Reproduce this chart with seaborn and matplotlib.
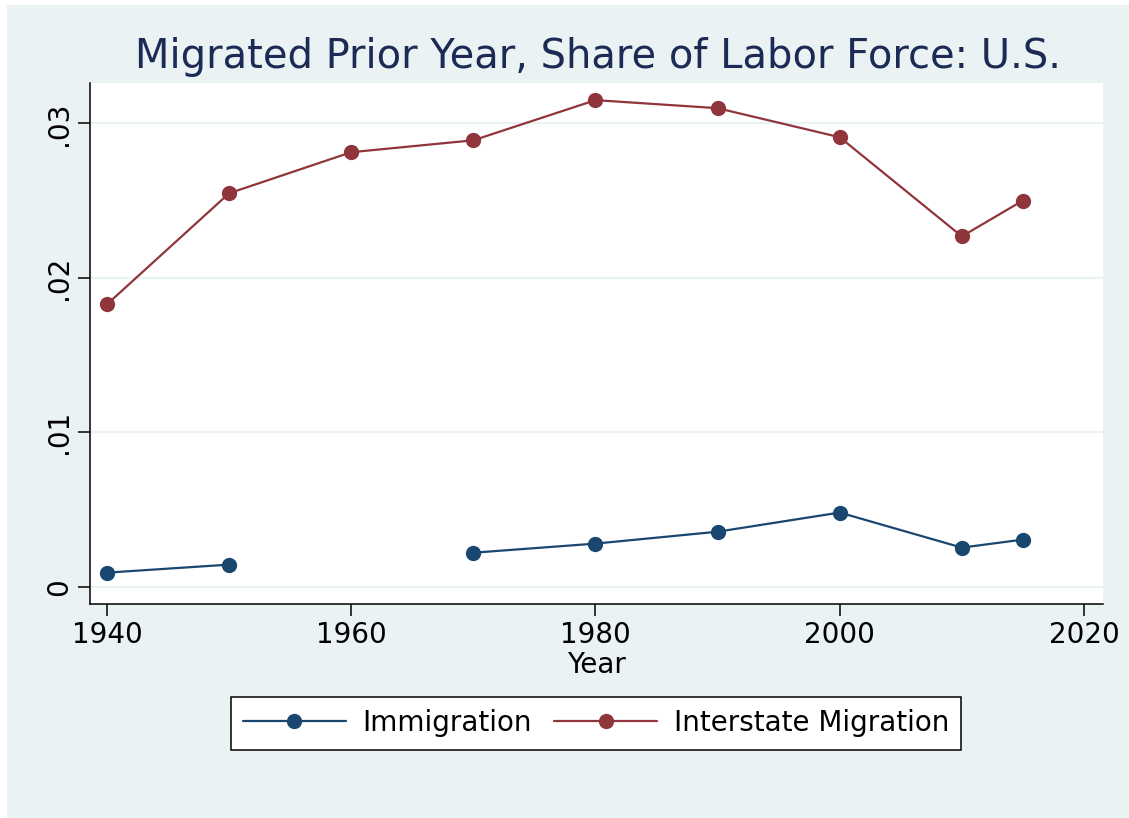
"""Migrated prior year, share of labor force (Stata s2color look)."""

import matplotlib

matplotlib.use("Agg")

import matplotlib.pyplot as plt
import numpy as np
import pandas as pd
import seaborn as sns
from matplotlib.lines import Line2D
from matplotlib.patches import Rectangle

years = [1940, 1950, 1960, 1970, 1980, 1990, 2000, 2010, 2015]
immigration = [0.00091, 0.00143, np.nan, 0.0022, 0.00279, 0.00356, 0.0048, 0.00253, 0.00305]
interstate = [0.01828, 0.02547, 0.02813, 0.0289, 0.0315, 0.03098, 0.0291, 0.02268, 0.0250]
series_names = ["Immigration", "Interstate Migration"]
y_ticks = [0, 0.01, 0.02, 0.03]
y_ticklabels = ["0", ".01", ".02", ".03"]
x_ticks = [1940, 1960, 1980, 2000, 2020]

NAVY = "#1a476f"
MAROON = "#90353b"
BG = "#eaf2f3"
TITLE_COLOR = "#1c2b55"

frames = []
for name, vals in zip(series_names, [immigration, interstate]):
    d = pd.DataFrame({"Year": years, "value": vals, "series": name})
    # break the line where a value is missing
    d["segment"] = d["value"].isna().cumsum()
    frames.append(d.dropna())
df = pd.concat(frames, ignore_index=True)
df["unit"] = df["series"] + "_" + df["segment"].astype(str)

sns.set_theme(style="white")
plt.rcParams["font.family"] = ["DejaVu Sans"]
plt.rcParams["text.color"] = "black"
plt.rcParams["axes.labelcolor"] = "black"
plt.rcParams["xtick.color"] = "black"
plt.rcParams["ytick.color"] = "black"

fig = plt.figure(figsize=(11.29, 8.18), dpi=100, facecolor="white")
fig.patches.append(Rectangle((7 / 1129, 0), 1, 1 - 5 / 818, transform=fig.transFigure,
                             facecolor=BG, edgecolor="none", zorder=-10))
ax = fig.add_axes([90 / 1129, 1 - 604 / 818, 1013 / 1129, 521 / 818])
ax.set_facecolor("white")

palette = {"Immigration": NAVY, "Interstate Migration": MAROON}
sns.lineplot(data=df, x="Year", y="value", hue="series", units="unit", estimator=None,
             palette=palette, marker="o", markersize=11, markeredgewidth=0,
             linewidth=1.6, legend=False, ax=ax)

ax.set_xlim(1938.61, 2021.56)
ax.set_ylim(-0.00112, 0.03261)
ax.set_yticks(y_ticks)
ax.set_yticklabels(y_ticklabels, rotation=90, va="center", fontsize=20)
ax.set_xticks(x_ticks)
ax.set_xticklabels([str(t) for t in x_ticks], fontsize=20)
ax.tick_params(axis="both", which="major", length=8.5, width=1.1, color="black",
               labelcolor="black", direction="out", bottom=True, left=True, pad=4)
ax.yaxis.grid(True, color=BG, linewidth=1.6)
ax.xaxis.grid(False)
for side in ["top", "right"]:
    ax.spines[side].set_visible(False)
for side in ["left", "bottom"]:
    ax.spines[side].set_color("black")
    ax.spines[side].set_linewidth(1.1)

ax.set_xlabel("Year", fontsize=20, labelpad=1, color="black")
ax.set_ylabel("")

fig.text(598 / 1129, 1 - 57 / 818, "Migrated Prior Year, Share of Labor Force: U.S.",
         ha="center", va="center", fontsize=28.8, color=TITLE_COLOR)

handles = [Line2D([], [], color=palette[n], marker="o", markersize=11, markeredgewidth=0,
                  linewidth=1.6) for n in series_names]
leg = fig.legend(handles, series_names, loc="center", bbox_to_anchor=(596 / 1129, 1 - 723 / 818),
                 ncol=2, fontsize=20, frameon=True, fancybox=False, handlelength=3.7,
                 columnspacing=0.8, handletextpad=0.6, borderpad=0.45, borderaxespad=0)
leg.get_frame().set_edgecolor("black")
leg.get_frame().set_linewidth(1.1)
leg.get_frame().set_facecolor("white")
leg.get_frame().set_alpha(1)
for t in leg.get_texts():
    t.set_color("black")

fig.savefig("out.png", dpi=100, facecolor=fig.get_facecolor())
